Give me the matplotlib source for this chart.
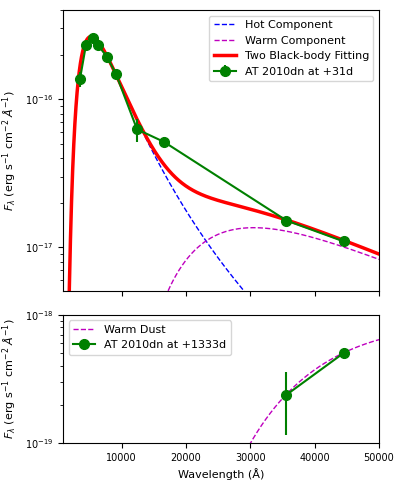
import numpy as np
import matplotlib.pyplot as plt
from matplotlib.ticker import NullFormatter

# photometry of AT 2010dn at +31d
wave_31d = [3500, 4440, 5530, 6310, 7710, 9110, 12380, 16590, 35600, 44480]
flux_31d = [1.36e-16, 2.32e-16, 2.57e-16, 2.32e-16, 1.93e-16, 1.48e-16,
            6.27e-17, 5.15e-17, 1.52e-17, 1.10e-17]
err_31d = [1.6e-17, 1.0e-17, 1.0e-17, 1.0e-17, 1.0e-17, 1.0e-17,
           1.1e-17, 4.0e-18, 5.0e-19, 4.0e-19]

# photometry at +1333d
wave_1333d = [35600, 44480]
flux_1333d = [2.38e-19, 5.03e-19]
err_1333d = [1.22e-19, 0.5e-19]

# black-body fit parameters (temperature in K, flux at a reference wavelength)
t_hot, ref_hot, f_hot = 5500, 5269, 2.65e-16
t_warm, ref_warm, f_warm = 950, 30505, 1.36e-17
t_dust, ref_dust, f_dust = 435, 50000, 6.4e-19

xticks = [10000, 20000, 30000, 40000, 50000]


def planck(wl, t):
    return wl ** -5.0 / (np.exp(1.4388e8 / (wl * t)) - 1.0)


def bb(wl, t, ref, f):
    return f * planck(wl, t) / planck(ref, t)


wl = np.linspace(800, 50000, 2000)
hot = bb(wl, t_hot, ref_hot, f_hot)
warm = bb(wl, t_warm, ref_warm, f_warm)
dust = bb(wl, t_dust, ref_dust, f_dust)

plt.rcParams['font.size'] = 8
fig = plt.figure(figsize=(3.99, 4.98), dpi=100)
ax1 = fig.add_axes([0.158, 0.416, 0.792, 0.564])
ax2 = fig.add_axes([0.158, 0.110, 0.792, 0.258])

ax1.plot(wl, hot, 'b--', lw=1, label='Hot Component')
ax1.plot(wl, warm, 'm--', lw=1, label='Warm Component')
ax1.plot(wl, hot + warm, 'r-', lw=2.5, label='Two Black-body Fitting')
ax1.errorbar(wave_31d, flux_31d, yerr=err_31d, fmt='o-', color='green',
             ms=7, lw=1.5, label='AT 2010dn at +31d')
ax1.set_yscale('log')
ax1.set_xlim(880, 50000)
ax1.set_ylim(5.1e-18, 4e-16)
ax1.set_yticks([1e-17, 1e-16])
ax1.yaxis.set_minor_formatter(NullFormatter())
ax1.set_xticks(xticks)
ax1.tick_params(labelbottom=False)
ax1.set_ylabel(r'$F_\lambda$ (erg s$^{-1}$ cm$^{-2}$ $\AA^{-1}$)')
ax1.legend(loc='upper right', fontsize=8)

ax2.plot(wl, dust, 'm--', lw=1, label='Warm Dust')
ax2.errorbar(wave_1333d, flux_1333d, yerr=err_1333d, fmt='o-', color='green',
             ms=7, lw=1.5, label='AT 2010dn at +1333d')
ax2.set_yscale('log')
ax2.set_xlim(880, 50000)
ax2.set_ylim(1e-19, 1e-18)
ax2.set_yticks([1e-19, 1e-18])
ax2.yaxis.set_minor_formatter(NullFormatter())
ax2.set_xticks(xticks)
ax2.set_xlabel('Wavelength (Å)')
ax2.set_ylabel(r'$F_\lambda$ (erg s$^{-1}$ cm$^{-2}$ $\AA^{-1}$)')
ax2.legend(loc='upper left', fontsize=8)

for ax in (ax1, ax2):
    ax.tick_params(labelsize=7)

fig.savefig('out.png', dpi=100)
